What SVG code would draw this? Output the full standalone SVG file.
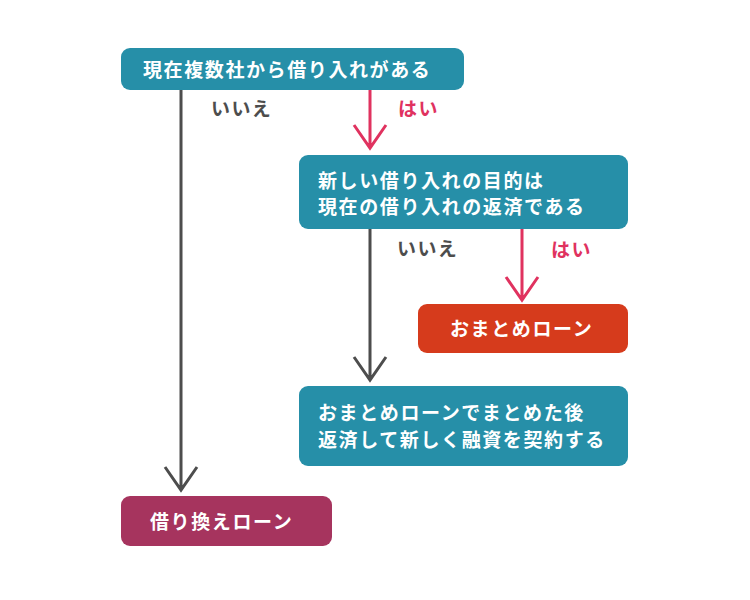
<svg xmlns="http://www.w3.org/2000/svg" width="750" height="600" viewBox="0 0 750 600">
<style>
.t{font-family:"Noto Sans CJK JP","Noto Sans",sans-serif;font-weight:bold;font-size:19px;fill:#fff;letter-spacing:1.6px}
.lb{font-family:"Noto Sans CJK JP","Noto Sans",sans-serif;font-weight:bold;font-size:19px;letter-spacing:1.4px}
.g{stroke:#4d4d4d;stroke-width:3;fill:none}
.p{stroke:#e0325f;stroke-width:3;fill:none}
</style>
<rect width="750" height="600" fill="#fff"/>
<g id="connectors">
<path class="g" d="M181 90V490M165 467L181 490L197 467"/>
<path class="p" d="M370 90V148M354 125L370 148L386 125"/>
<path class="g" d="M370 229V380M354 357L370 380L386 357"/>
<path class="p" d="M522 229V300M506 277L522 300L538 277"/>
<text class="lb" x="211" y="116" fill="#4d4d4d">いいえ</text>
<text class="lb" x="398" y="116" fill="#e0325f">はい</text>
<text class="lb" x="397" y="256" fill="#4d4d4d">いいえ</text>
<text class="lb" x="551" y="257" fill="#e0325f">はい</text>
</g>
<g id="node1"><rect x="121" y="48" width="343" height="42" rx="9" fill="#268fa8"/><text class="t" x="143" y="77">現在複数社から借り入れがある</text></g>
<g id="node2"><rect x="299" y="155" width="329" height="74" rx="9" fill="#268fa8"/><text class="t" x="318" y="188">新しい借り入れの目的は</text><text class="t" x="318" y="214">現在の借り入れの返済である</text></g>
<g id="node3"><rect x="418" y="304" width="210" height="49" rx="9" fill="#d63b1c"/><text class="t" x="450" y="336">おまとめローン</text></g>
<g id="node4"><rect x="299" y="386" width="329" height="80" rx="9" fill="#268fa8"/><text class="t" x="318" y="420">おまとめローンでまとめた後</text><text class="t" x="318" y="447">返済して新しく融資を契約する</text></g>
<g id="node5"><rect x="121" y="496" width="211" height="50" rx="9" fill="#a6345e"/><text class="t" x="150" y="529">借り換えローン</text></g>
</svg>
